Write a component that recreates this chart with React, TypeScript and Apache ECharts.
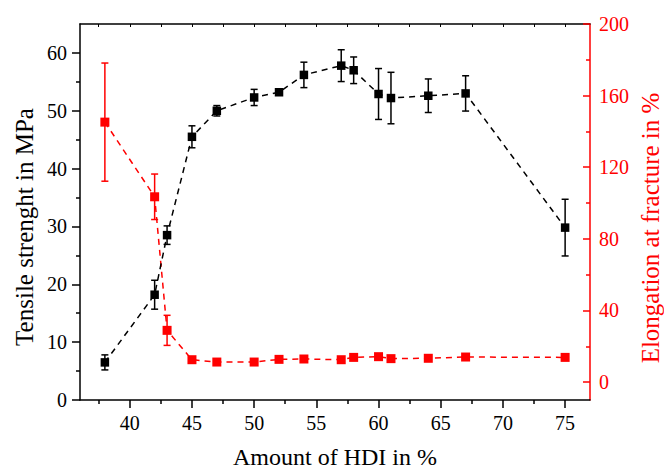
import React, { useEffect, useRef } from "react";
import * as echarts from "echarts";

const hdi = [38, 42, 43, 45, 47, 50, 52, 54, 57, 58, 60, 61, 64, 67, 75];
const tensile = [6.5, 18.2, 28.5, 45.5, 50.0, 52.3, 53.2, 56.2, 57.8, 57.0, 52.9, 52.2, 52.6, 53.0, 29.8];
const tensileErr = [1.3, 2.5, 1.6, 1.9, 0.9, 1.4, 0.5, 2.2, 2.75, 2.3, 4.4, 4.45, 2.9, 3.05, 4.9];
const elongation = [145.2, 103.5, 28.9, 12.5, 11.2, 11.2, 12.7, 12.9, 12.5, 13.8, 14.2, 13.1, 13.3, 14.0, 13.8];
const elongationErr = [33, 12.7, 8.4, 1, 1, 1, 1, 1, 1, 1, 1, 1, 1, 1, 1];

const xMajor = [40, 45, 50, 55, 60, 65, 70, 75];
const xMinor = [37.5, 42.5, 47.5, 52.5, 57.5, 62.5, 67.5, 72.5];
const xTop = [37.5, 40, 42.5, 45, 47.5, 50, 52.5, 55, 57.5, 60, 62.5, 65, 67.5, 70, 72.5, 75];
const leftMajor = [0, 10, 20, 30, 40, 50, 60];
const leftMinor = [5, 15, 25, 35, 45, 55];
const rightMajor = [0, 40, 80, 120, 160, 200];
const rightMinor = [20, 60, 100, 140, 180];

const FONT = "Liberation Serif";
const RED = "#ff0000";
const BLACK = "#000000";

function errBar(color: string) {
  return (params: any, api: any) => {
    const x = api.value(0);
    const lo = api.value(1);
    const hi = api.value(2);
    const pLo = api.coord([x, lo]);
    const pHi = api.coord([x, hi]);
    const w = 3.5;
    const style = { stroke: color, lineWidth: 1.5, fill: null };
    return {
      type: "group",
      children: [
        { type: "line", shape: { x1: pLo[0], y1: pLo[1], x2: pHi[0], y2: pHi[1] }, style },
        { type: "line", shape: { x1: pLo[0] - w, y1: pLo[1], x2: pLo[0] + w, y2: pLo[1] }, style },
        { type: "line", shape: { x1: pHi[0] - w, y1: pHi[1], x2: pHi[0] + w, y2: pHi[1] }, style },
      ],
    };
  };
}

export default function App() {
  const ref = useRef<HTMLDivElement>(null);
  useEffect(() => {
    if (!ref.current) return;
    const chart = echarts.init(ref.current, null, { renderer: "svg" });
    const tData = hdi.map((x, i) => [x, tensile[i]]);
    const eData = hdi.map((x, i) => [x, elongation[i]]);
    const tErr = hdi.map((x, i) => [x, tensile[i] - tensileErr[i], tensile[i] + tensileErr[i]]);
    const eErr = hdi.map((x, i) => [x, elongation[i] - elongationErr[i], elongation[i] + elongationErr[i]]);
    const labelStyle = { fontFamily: FONT, fontSize: 20 };
    chart.setOption({
      animation: false,
      backgroundColor: "#ffffff",
      textStyle: { fontFamily: FONT },
      grid: { left: 80, right: 74, top: 24, bottom: 71, containLabel: false },
      xAxis: [
        {
          type: "value", position: "bottom", min: 36, max: 77,
          axisLine: { onZero: false, lineStyle: { color: BLACK, width: 1.5 } },
          axisTick: { show: true, inside: false, length: 8, customValues: xMajor, lineStyle: { color: BLACK, width: 1.5 } },
          axisLabel: { show: true, customValues: xMajor, margin: 13, color: BLACK, ...labelStyle },
          splitLine: { show: false },
        },
        {
          type: "value", position: "bottom", min: 36, max: 77,
          axisLine: { show: false, onZero: false },
          axisTick: { show: true, inside: false, length: 4, customValues: xMinor, lineStyle: { color: BLACK, width: 1.5 } },
          axisLabel: { show: false },
          splitLine: { show: false },
        },
        {
          type: "value", position: "top", min: 36, max: 77,
          axisLine: { show: true, onZero: false, lineStyle: { color: BLACK, width: 1.5 } },
          axisTick: { show: true, inside: true, length: 3, customValues: xTop, lineStyle: { color: BLACK, width: 1 } },
          axisLabel: { show: false },
          splitLine: { show: false },
        },
      ],
      yAxis: [
        {
          type: "value", position: "left", min: 0, max: 65,
          axisLine: { show: true, onZero: false, lineStyle: { color: BLACK, width: 1.5 } },
          axisTick: { show: true, inside: false, length: 8, customValues: leftMajor, lineStyle: { color: BLACK, width: 1.5 } },
          axisLabel: { show: true, customValues: leftMajor, margin: 13, color: BLACK, ...labelStyle },
          splitLine: { show: false },
        },
        {
          type: "value", position: "left", min: 0, max: 65,
          axisLine: { show: false, onZero: false },
          axisTick: { show: true, inside: false, length: 4, customValues: leftMinor, lineStyle: { color: BLACK, width: 1.5 } },
          axisLabel: { show: false },
          splitLine: { show: false },
        },
        {
          type: "value", position: "right", min: -10, max: 200,
          axisLine: { show: true, onZero: false, lineStyle: { color: RED, width: 1.5 } },
          axisTick: { show: true, inside: true, length: 7, customValues: rightMajor, lineStyle: { color: RED, width: 1.5 } },
          axisLabel: { show: true, customValues: rightMajor, margin: 9, color: RED, ...labelStyle },
          splitLine: { show: false },
        },
        {
          type: "value", position: "right", min: -10, max: 200,
          axisLine: { show: false, onZero: false },
          axisTick: { show: true, inside: true, length: 4, customValues: rightMinor, lineStyle: { color: RED, width: 1.5 } },
          axisLabel: { show: false },
          splitLine: { show: false },
        },
      ],
      graphic: [
        {
          type: "text", x: 24, y: 227, rotation: Math.PI / 2,
          style: { text: "Tensile strenght in MPa", fontFamily: FONT, fontSize: 25, fill: BLACK, textAlign: "center", textVerticalAlign: "middle" },
        },
        {
          type: "text", x: 650, y: 228, rotation: Math.PI / 2,
          style: { text: "Elongation at fracture in %", fontFamily: FONT, fontSize: 25, fill: RED, textAlign: "center", textVerticalAlign: "middle" },
        },
        {
          type: "text", x: 335, y: 457,
          style: { text: "Amount of HDI in %", fontFamily: FONT, fontSize: 24, fill: BLACK, textAlign: "center", textVerticalAlign: "middle" },
        },
      ],
      series: [
        {
          type: "custom", name: "elongErr", xAxisIndex: 0, yAxisIndex: 2,
          renderItem: errBar(RED), data: eErr, encode: { x: 0, y: [1, 2] }, z: 2,
        },
        {
          type: "line", name: "Elongation", xAxisIndex: 0, yAxisIndex: 2, data: eData,
          symbol: "rect", symbolSize: 9,
          itemStyle: { color: RED },
          lineStyle: { color: RED, width: 1.5, type: [6, 5] }, z: 3,
        },
        {
          type: "custom", name: "tensileErr", xAxisIndex: 0, yAxisIndex: 0,
          renderItem: errBar(BLACK), data: tErr, encode: { x: 0, y: [1, 2] }, z: 4,
        },
        {
          type: "line", name: "Tensile", xAxisIndex: 0, yAxisIndex: 0, data: tData,
          symbol: "rect", symbolSize: 8.5,
          itemStyle: { color: BLACK },
          lineStyle: { color: BLACK, width: 1.5, type: [6, 5] }, z: 5,
        },
      ],
    });
    return () => chart.dispose();
  }, []);
  return (
    <div
      ref={ref}
      style={{ position: "fixed", left: 0, top: 0, width: 664, height: 471, background: "#fff" }}
    />
  );
}
